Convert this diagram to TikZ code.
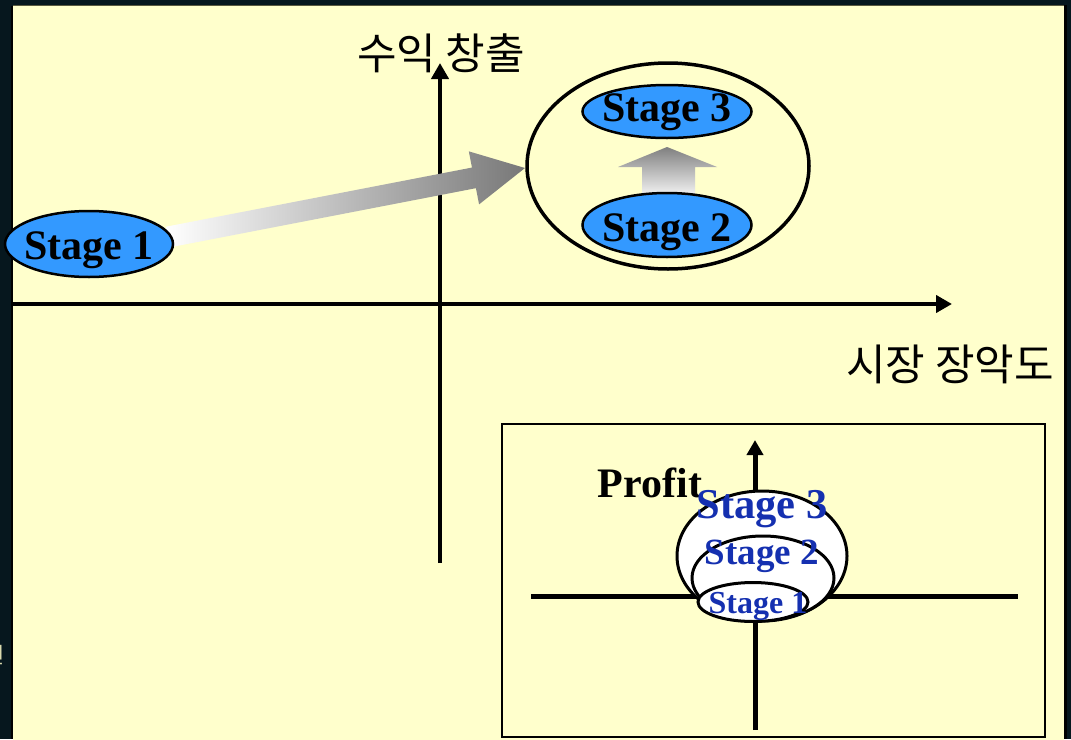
\documentclass[tikz,border=0pt]{standalone}
\usepackage{fontspec}
\setmainfont{Liberation Serif}
\newfontfamily\kofont{Noto Sans CJK KR}
\usetikzlibrary{shapes.geometric,arrows.meta,calc}
\definecolor{pagebg}{HTML}{06171E}
\definecolor{panel}{HTML}{FFFFCC}
\definecolor{stagefill}{HTML}{3399FF}
\definecolor{stageblue}{HTML}{1530B0}
\definecolor{rimline}{HTML}{5A5A40}
\begin{document}
\begin{tikzpicture}[x=1pt,y=-1pt,
  axis/.style={line width=4.5pt},
  tipbig/.style={-{Triangle[length=16pt,width=17pt]}},
  stage/.style={ellipse, draw=black, line width=2.5pt, fill=stagefill, inner sep=0pt},
  stagetext/.style={anchor=base, inner sep=0pt, font=\fontsize{42}{48}\selectfont\bfseries},
  kolabel/.style={inner sep=0pt, font=\kofont\fontsize{43}{50}\selectfont},
  ring/.style={ellipse, draw=black, fill=white, line width=3pt, inner sep=0pt},
  bluetext/.style={anchor=base, inner sep=0pt, text=stageblue, font=\bfseries}]
\useasboundingbox (0,0) rectangle (1071,739);

% slide background and the yellow panel
\fill[pagebg] (0,0) rectangle (1071,739);
\fill[panel] (13,6) rectangle (1064,745);
\draw[rimline, line width=1pt] (13,5.5) -- (1064,5.5);
\draw[black, line width=2pt] (12,6) -- (12,739);
\draw[black, line width=3pt] (1065,5) -- (1065,739);
\node[anchor=base west, inner sep=0pt, text=panel!85!black,
      font=\kofont\fontsize{22}{26}\selectfont] (cut) at (-16,663) {번};

% main axes
\coordinate (xo) at (13,304);
\coordinate (xe) at (952,304);
\coordinate (yo) at (440,563);
\coordinate (ye) at (440,63);
\draw[axis, tipbig] (xo) -- (xe);
\draw[axis, tipbig] (yo) -- (ye);
\node[kolabel] (ylab) at (441,53) {수익 창출};
\node[kolabel] (xlab) at (950,364) {시장 장악도};

% group ring around stages 2 and 3
\node[ellipse, draw=black, line width=3.5pt, inner sep=0pt,
      minimum width=282pt, minimum height=206pt] (grp) at (668,166) {};

% shaded arrow from stage 1 to the group
\coordinate (a0) at (168,237);
\coordinate (tip) at (525,168);
\coordinate (hb) at ($(tip)!52pt!(a0)$);
\shade[left color=white, right color=black!53]
  ($(a0)!10.5pt!90:(tip)$) -- ($(hb)!10.5pt!-90:(a0)$) -- ($(hb)!27pt!-90:(a0)$) --
  (tip) -- ($(hb)!27pt!90:(a0)$) -- ($(hb)!10.5pt!90:(a0)$) -- ($(a0)!10.5pt!-90:(tip)$) -- cycle;

% stage 1
\node[stage, minimum width=168pt, minimum height=66pt] (s1) at (89,244) {};
\node[stagetext] (s1t) at ($(s1.center)+(0,15)$) {Stage 1};

% shaded up arrow from stage 2 to stage 3
\shade[top color=black!50, bottom color=white]
  (642,200) -- (642,167) -- (618,167) -- (667,147) -- (717,167) -- (695,167) -- (695,200) -- cycle;

% stages 2 and 3
\node[stage, minimum width=169pt, minimum height=53pt] (s3) at (667,111.5) {};
\node[stagetext] (s3t) at ($(s3.center)+(0,9.5)$) {Stage 3};
\node[stage, minimum width=169pt, minimum height=64pt] (s2) at (667,225) {};
\node[stagetext] (s2t) at ($(s2.center)+(0,16)$) {Stage 2};

% inset: small profit chart
\draw[black, line width=2pt] (502,424) rectangle (1045,737);
\coordinate (ixo) at (531,596);
\coordinate (ixe) at (1018,596);
\coordinate (iyo) at (755,730);
\coordinate (iye) at (755,440);
\draw[line width=5pt] (ixo) -- (ixe);
\draw[line width=5pt, -{Triangle[length=15pt,width=16pt]}] (iyo) -- (iye);
\node[ring, minimum width=170pt, minimum height=130pt] (r3) at (762,556) {};
\node[ring, minimum width=142pt, minimum height=84pt] (r2) at (763,578) {};
\node[ring, minimum width=110pt, minimum height=39pt] (r1) at (753,602) {};
\node[anchor=base, inner sep=0pt, font=\fontsize{42}{48}\selectfont\bfseries] (prof) at (650,497) {Profit};
\node[bluetext, font=\fontsize{42.5}{48}\selectfont\bfseries] (i3) at (762,518) {Stage 3};
\node[bluetext, font=\fontsize{37}{42}\selectfont\bfseries] (i2) at (762,564) {Stage 2};
\node[bluetext, font=\fontsize{32}{36}\selectfont\bfseries] (i1) at (758,613) {Stage 1};
\end{tikzpicture}
\end{document}
